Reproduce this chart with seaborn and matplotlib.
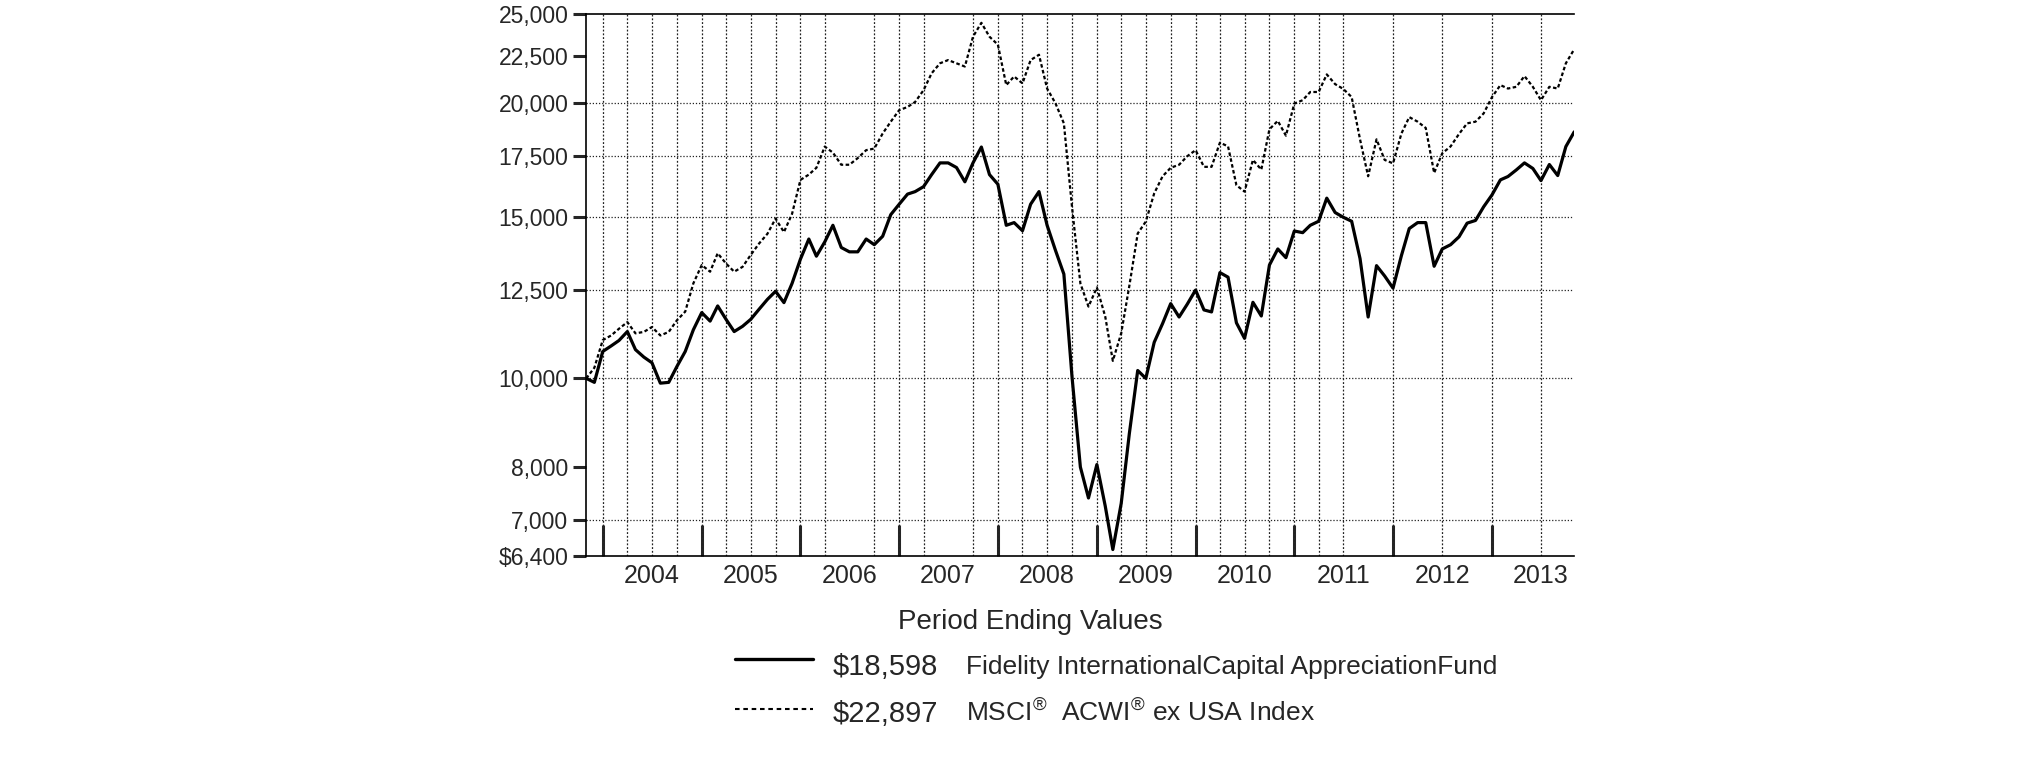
import pandas as pd
import seaborn as sns
import matplotlib.pyplot as plt
from matplotlib.lines import Line2D

# growth of $10,000, month ends Oct 2003 .. Oct 2013
start_month = "2003-10-31"
fund_values = [
    10000, 9900, 10700, 10850, 11000, 11250, 10750, 10550, 10400, 9880,
    9900, 10300, 10700, 11300, 11800, 11550, 12000, 11600, 11250, 11400,
    11600, 11900, 12200, 12450, 12100, 12700, 13500, 14200, 13600, 14100,
    14700, 13900, 13750, 13750, 14200, 14000, 14300, 15100, 15500, 15900,
    16000, 16200, 16700, 17200, 17200, 17000, 16400, 17200, 17900, 16700,
    16300, 14700, 14800, 14500, 15500, 16000, 14700, 13800, 13000, 10050,
    8000, 7400, 8050, 7250, 6500, 7300, 8700, 10200, 10000, 10950,
    11480, 12070, 11670, 12050, 12490, 11880, 11820, 13050, 12900, 11500,
    11060, 12110, 11700, 13300, 13850, 13550, 14490, 14430, 14700, 14850,
    15740, 15180, 15000, 14850, 13520, 11670, 13280, 12940, 12550, 13620,
    14580, 14800, 14800, 13260, 13850, 14000, 14280, 14780, 14880, 15400,
    15870, 16480, 16620, 16900, 17200, 16960, 16450, 17130, 16660, 17920,
    18598,
]
index_values = [
    10000, 10270, 11010, 11140, 11330, 11520, 11200, 11240, 11380, 11140,
    11240, 11570, 11830, 12700, 13300, 13080, 13700, 13350, 13080, 13240,
    13640, 14040, 14390, 14950, 14450, 15130, 16480, 16700, 16990, 17920,
    17650, 17120, 17120, 17410, 17760, 17830, 18520, 19080, 19640, 19800,
    20050, 20650, 21550, 22100, 22280, 22100, 21920, 23630, 24470, 23630,
    23160, 20920, 21380, 21010, 22280, 22580, 20740, 19980, 19000, 15400,
    12700, 11980, 12570, 11680, 10450, 11200, 12620, 14400, 14840, 15930,
    16630, 16990, 17120, 17490, 17760, 17030, 17030, 18100, 17930, 16260,
    16000, 17330, 16910, 18720, 19120, 18420, 19970, 20140, 20560, 20560,
    21490, 20970, 20720, 20300, 18250, 16630, 18250, 17330, 17180, 18520,
    19300, 19080, 18780, 16770, 17620, 17930, 18500, 19000, 19080, 19480,
    20300, 20920, 20740, 20830, 21400, 20830, 20140, 20830, 20740, 22100,
    22897,
]
fund_name = "Fidelity InternationalCapital AppreciationFund"
index_name = r"MSCI$^{\circledR}$  ACWI$^{\circledR}$ ex USA Index"

y_ticks = [6400, 7000, 8000, 10000, 12500, 15000, 17500, 20000, 22500, 25000]
y_tick_labels = [r"\$6,400", "7,000", "8,000", "10,000", "12,500", "15,000",
                 "17,500", "20,000", "22,500", "25,000"]
y_grid = [7000, 10000, 12500, 15000, 17500, 20000]
year_labels = ["2004", "2005", "2006", "2007", "2008", "2009", "2010",
               "2011", "2012", "2013"]
x_grid = [
    "2003-12-31", "2004-03-31", "2004-06-30", "2004-09-30", "2004-12-31",
    "2005-03-31", "2005-06-30", "2005-09-30", "2005-12-31", "2006-03-31",
    "2006-09-30", "2006-12-31", "2007-03-31", "2007-09-30", "2007-12-31",
    "2008-03-31", "2008-06-30", "2008-09-30", "2008-12-31", "2009-03-31",
    "2009-06-30", "2009-09-30", "2009-12-31", "2010-03-31", "2010-06-30",
    "2010-09-30", "2010-12-31", "2011-03-31", "2011-06-30", "2011-12-31",
    "2012-06-30", "2012-12-31", "2013-06-30",
]

dates = pd.date_range(start_month, periods=len(fund_values), freq="ME")
df = pd.DataFrame({"date": dates, "fund": fund_values, "index": index_values})

sns.set_style("white")
plt.rcParams["font.family"] = ["Liberation Sans", "DejaVu Sans"]
plt.rcParams["mathtext.fontset"] = "custom"
plt.rcParams["mathtext.rm"] = "Liberation Sans"

fig = plt.figure(figsize=(20.25, 7.61), dpi=100)
ax = fig.add_axes([0.2895, 0.2698, 0.4879, 0.7114])

for y in y_grid:
    ax.axhline(y, color="#222222", lw=0.9, ls=(0, (1, 1.5)), zorder=1)
for d in x_grid:
    ax.axvline(pd.Timestamp(d), color="#222222", lw=0.9, ls=(0, (1.5, 1.5)), zorder=1)

sns.lineplot(data=df, x="date", y="index", ax=ax, color="black", lw=1.6,
             zorder=3).lines[-1].set_dashes([1.6, 1.1])
sns.lineplot(data=df, x="date", y="fund", ax=ax, color="black", lw=2.3, zorder=4)

ax.set_yscale("log")
ax.set_ylim(y_ticks[0], y_ticks[-1])
ax.set_xlim(dates[0], dates[-1])
ax.set_yticks(y_ticks)
ax.set_yticklabels(y_tick_labels)
ax.yaxis.set_minor_locator(plt.NullLocator())
ax.tick_params(axis="y", which="major", direction="out", length=9.4, width=2.2,
               pad=3.5, labelsize=16.5, left=True)

year_ends = pd.date_range("2003-12-31", periods=len(year_labels), freq="YE")
mid_years = [pd.Timestamp(f"{y}-06-30") for y in year_labels]
ax.set_xticks(year_ends)
ax.set_xticklabels([])
ax.set_xticks(mid_years, minor=True)
ax.set_xticklabels(year_labels, minor=True)
ax.tick_params(axis="x", which="major", direction="in", length=22, width=2.2,
               bottom=True)
ax.tick_params(axis="x", which="minor", length=0, pad=6, labelsize=18)
ax.set_xlabel("")
ax.set_ylabel("")

for side in ["left", "bottom", "top"]:
    ax.spines[side].set_color("black")
    ax.spines[side].set_linewidth(1.2)
ax.spines["right"].set_visible(False)

fig.text(0.5086, 0.1741, "Period Ending Values", ha="center", va="baseline",
         fontsize=20)
fig.add_artist(Line2D([0.363, 0.4015], [0.134, 0.134], color="black", lw=2.4))
fig.add_artist(Line2D([0.363, 0.4015], [0.0683, 0.0683], color="black", lw=1.5,
                      dashes=[2.2, 1.8]))
fig.text(0.4114, 0.1133, f"\\${fund_values[-1]:,}", ha="left", va="baseline",
         fontsize=21)
fig.text(0.4114, 0.0512, f"\\${index_values[-1]:,}", ha="left", va="baseline",
         fontsize=21)
fig.text(0.477, 0.1137, fund_name, ha="left", va="baseline", fontsize=19)
fig.text(0.477, 0.0526, index_name, ha="left", va="baseline", fontsize=19)

fig.savefig("out.png", dpi=100, facecolor="white")
